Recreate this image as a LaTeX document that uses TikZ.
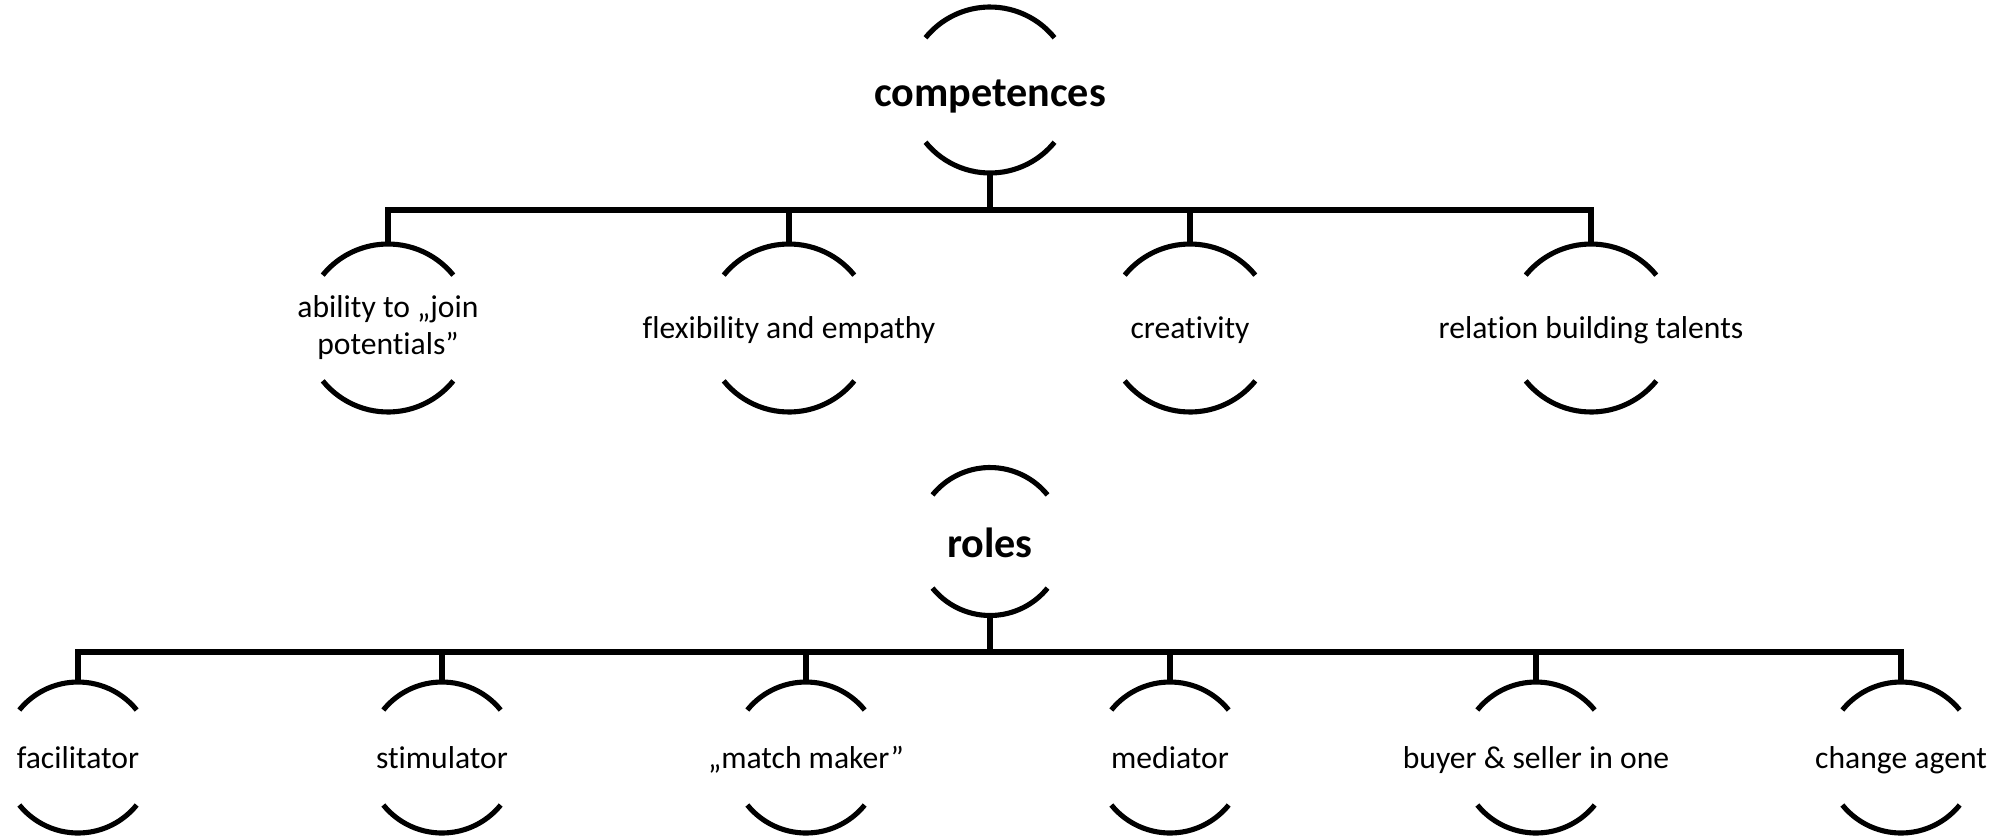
\documentclass[tikz,border=0pt]{standalone}
\usepackage{fontspec}
\setmainfont[Ligatures=NoCommon]{Carlito}
\usetikzlibrary{positioning}

% two arcs around a node centre: node, radius
\newcommand{\moonarcs}[2]{%
  \draw ([shift={(39:#2)}]#1.center) arc[start angle=39, end angle=141, radius=#2];
  \draw ([shift={(219:#2)}]#1.center) arc[start angle=219, end angle=321, radius=#2];}

\begin{document}
\begin{tikzpicture}[line width=1.45pt, every node/.style={font=\fontsize{9}{10.5}\selectfont},
    headtxt/.style={font=\fontsize{12}{14}\selectfont\bfseries, inner sep=0pt, text height=9.2pt, text depth=0pt},
    leaftxt/.style={align=center, inner sep=0pt},
    onetxt/.style={inner sep=0pt, text depth=0pt}]
        \useasboundingbox (0,0) rectangle (20.10,-8.37);
        % Competences
        \node[headtxt] (comp) at (9.90,-0.90) {competences};
        \node[leaftxt] (join) at (3.88,-3.28) {ability to „join\\potentials”};
        \node[onetxt] (flex) at (7.89,-3.28) {flexibility and empathy};
        \node[onetxt] (crea) at (11.90,-3.28) {creativity};
        \node[onetxt] (rela) at (15.91,-3.28) {relation building talents};
        \moonarcs{comp}{0.83}
        \foreach \n in {join, flex, crea, rela} {\moonarcs{\n}{0.84}}
        % Roles
        \node[headtxt] (roles) at (9.90,-5.415) {roles};
        \node[onetxt] (faci) at (0.78,-7.575) {facilitator};
        \node[onetxt] (stim) at (4.42,-7.575) {stimulator};
        \node[onetxt] (match) at (8.06,-7.575) {„match maker”};
        \node[onetxt] (medi) at (11.70,-7.575) {mediator};
        \node[onetxt] (buyer) at (15.36,-7.575) {buyer \& seller in one};
        \node[onetxt] (change) at (19.01,-7.575) {change agent};
        \moonarcs{roles}{0.74}
        \foreach \n in {faci, stim, match, medi, buyer, change} {\moonarcs{\n}{0.755}}
        % Tree lines
        \coordinate (compbar) at (9.90,-2.10);
        \coordinate (rolesbar) at (9.90,-6.52);
        \draw ([yshift=-0.83cm]comp.center) -- (compbar);
        \foreach \n in {join, flex, crea, rela} {\draw (compbar) -| ([yshift=0.84cm]\n.center);}
        \draw ([yshift=-0.74cm]roles.center) -- (rolesbar);
        \foreach \n in {faci, stim, match, medi, buyer, change} {\draw (rolesbar) -| ([yshift=0.755cm]\n.center);}
    \end{tikzpicture}
\end{document}
